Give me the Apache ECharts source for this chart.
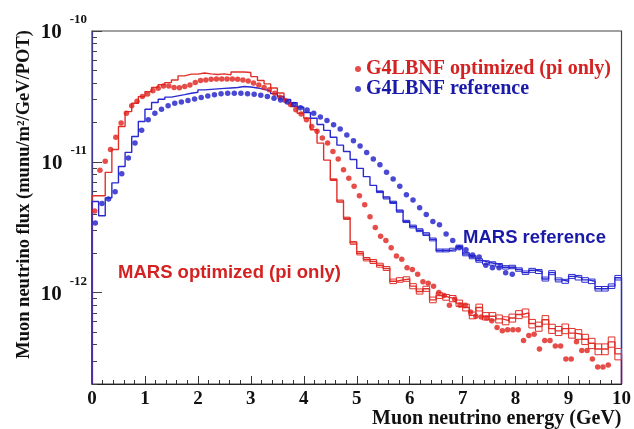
<!DOCTYPE html>
<html>
<head>
<meta charset="utf-8">
<script src="https://cdn.jsdelivr.net/npm/echarts@6/dist/echarts.min.js"></script>
<style>
  html, body { margin: 0; padding: 0; background: #fff; }
  #chart { width: 634px; height: 429px; }
</style>
</head>
<body>
<div id="chart"></div>
<script>
// flux values are in units of 1e-12 munu/m2/GeV/POT
var unit = 1e-12;

// G4LBNF optimized (pi only) - 0.1 GeV bins
var g4OptBin = 0.1;
var g4Opt = [4.2, 8.6, 10.1, 12.4, 15.4, 19.8, 23.5, 26.8, 29, 31.5,
  33, 35, 36.5, 38, 38, 37, 36.8, 37.6, 38.6, 40.4,
  41.8, 42.2, 42.8, 43, 43, 43, 43, 42.8, 42.2, 41.5,
  40, 38.6, 37, 35.5, 33.4, 31.2, 29.4, 27.4, 25, 23.2,
  21, 18.6, 17.1, 15.2, 13.9, 12.0, 10.5, 8.7, 7.5, 6.5,
  5.5, 4.7, 3.8, 3.15, 2.7, 2.5, 2.2, 1.9, 1.8, 1.55,
  1.5, 1.38, 1.21, 1.18, 1.12, 1.0, 0.95, 0.8, 0.89, 0.8,
  0.8, 0.71, 0.66, 0.65, 0.64, 0.61, 0.54, 0.51, 0.52, 0.52,
  0.52, 0.43, 0.47, 0.48, 0.37, 0.43, 0.43, 0.39, 0.39, 0.31,
  0.31, 0.42, 0.36, 0.36, 0.31, 0.27, 0.27, 0.28, null, null];

// G4LBNF reference - 0.125 GeV bins
var g4RefBin = 0.125;
var g4Ref = [3.4, 4.8, 5.2, 5.9, 8.1, 10.7, 13.9, 17.4, 21, 23.5,
  25.2, 26.8, 28, 28.7, 29.4, 30.2, 31, 31.9, 32.6, 33.1,
  33.4, 33.4, 33.4, 33.1, 32.8, 32.2, 31.5, 30.6, 29.7, 28.7,
  27.4, 25.9, 24.9, 23.5, 22, 20.7, 19.2, 17.8, 16, 14.5,
  13.2, 11.8, 10.5, 9.5, 8.3, 7.4, 6.5, 5.6, 5.1, 4.45,
  3.95, 3.5, 3.3, 2.8, 2.5, 2.2, 2.13, 1.94, 1.87, 1.62,
  1.55, 1.55, 1.42, 1.38];

// MARS histograms - 0.125 GeV bins, errors in percent
var marsBin = 0.125;
var marsOpt = [5.5, 5.5, 8.3, 12.4, 18.6, 24.2, 28, 31.5, 34.4, 37,
  38.8, 40.3, 42.2, 45.4, 46.8, 46.8, 47.7, 47, 46.5, 47,
  46.2, 48.6, 48.6, 48.2, 44.8, 41.8, 39.4, 36.7, 33.6, 29.8,
  26.5, 23.5, 21.5, 17.6, 13.9, 10.3, 7.3, 5.0, 3.7, 2.4,
  2.0, 1.8, 1.73, 1.62, 1.53, 1.22, 1.25, 1.27, 1.12, 1.02,
  1.07, 0.88, 0.95, 0.92, 0.9, 0.83, 0.77, 0.67, 0.77, 0.66,
  0.66, 0.63, 0.61, 0.64, 0.68, 0.7, 0.58, 0.55, 0.62, 0.53,
  0.51, 0.53, 0.49, 0.48, 0.44, 0.41, 0.37, 0.37, 0.42, 0.34];
var marsOptErr = [0, 0, 0, 0, 0, 0, 0, 0, 0, 0,
  0, 0, 0, 0, 0, 0, 0, 0, 0, 0,
  0, 0, 0, 0, 0, 0, 0, 0, 0, 0,
  0, 0, 0, 0, 0, 0, 1.5, 2, 2, 2.5,
  3, 3, 3.5, 3.5, 3.5, 4, 4, 4, 4.5, 4.5,
  4.5, 5, 5, 5, 5.5, 5.5, 6, 6, 6, 6.5,
  6.5, 7, 7, 7, 7, 7, 7.5, 8, 7.5, 8,
  8, 8.5, 8.5, 8.5, 9, 9, 9.5, 9.5, 9, 10];
var marsRef = [4.97, 3.87, 5.3, 6.9, 9.2, 11.8, 15.6, 20.3, 25.2, 28.4,
  30.1, 31.2, 31.9, 32.6, 33.4, 34, 35.5, 35.8, 36.1, 36.4,
  36.7, 37, 37.6, 37.3, 36.7, 35.8, 34.8, 33.2, 31.6, 30,
  28.3, 26.2, 23.8, 21.5, 19.3, 17.4, 15.4, 13.4, 12.0, 10.4,
  8.9, 7.7, 6.6, 5.9, 5.3, 4.9, 4.2, 3.5, 3.2, 3.0,
  2.8, 2.55, 2.1, 2.1, 2.13, 2.25, 1.97, 1.87, 1.76, 1.7,
  1.67, 1.62, 1.56, 1.57, 1.5, 1.42, 1.48, 1.45, 1.27, 1.42,
  1.25, 1.22, 1.33, 1.3, 1.25, 1.22, 1.07, 1.07, 1.12, 1.3];
var marsRefErr = [0, 0, 0, 0, 0, 0, 0, 0, 0, 0,
  0, 0, 0, 0, 0, 0, 0, 0, 0, 0,
  0, 0, 0, 0, 0, 0, 0, 0, 0, 0,
  0, 0, 0, 0, 0, 0, 0, 0, 0, 0,
  0, 0, 0, 1.5, 2, 2, 2, 2, 2.5, 2.5,
  2.5, 2.5, 2.5, 2.5, 2.5, 2.5, 3, 3, 3, 3,
  3, 3, 3, 3, 3, 3, 3.5, 3.5, 3.5, 3.5,
  3.5, 3.5, 3.5, 4, 4, 4, 4, 4, 4, 4];

var xMin = 0, xMax = 10;
var yMin = 2e-13, yMax = 1e-10;
var yMajorTicks = [1e-12, 1e-11, 1e-10];
var yMinorMult = [2, 3, 4, 5, 6, 7, 8, 9];

var RED = '#e0201c', BLUE = '#1c1cc8';
var serif = 'Liberation Serif', sans = 'Liberation Sans';

var yMinorTicks = [];
[1e-13, 1e-12, 1e-11].forEach(function (d) {
  yMinorMult.forEach(function (m) {
    var v = m * d;
    if (v >= yMin && v <= yMax) yMinorTicks.push(v);
  });
});

function dots(vals, bin) {
  var out = [];
  vals.forEach(function (v, i) {
    if (v != null) out.push([(i + 0.5) * bin, v * unit]);
  });
  return out;
}

function steps(vals, bin) {
  var out = [[0, yMin]];
  vals.forEach(function (v, i) { out.push([i * bin, v * unit]); });
  out.push([vals.length * bin, vals[vals.length - 1] * unit]);
  out.push([vals.length * bin, yMin]);
  return out;
}

function boxes(vals, errs, bin) {
  var out = [];
  vals.forEach(function (v, i) {
    if (errs[i] > 0) out.push([i * bin, (i + 1) * bin, v * unit, errs[i] / 100]);
  });
  return out;
}

function boxSeries(data, color) {
  return {
    type: 'custom',
    silent: true,
    z: 3,
    data: data,
    encode: { x: [0, 1], y: 2 },
    renderItem: function (params, api) {
      var v = api.value(2), e = api.value(3);
      var p0 = api.coord([api.value(0), v * (1 + e)]);
      var p1 = api.coord([api.value(1), v * (1 - e)]);
      return {
        type: 'rect',
        shape: { x: p0[0], y: p0[1], width: p1[0] - p0[0], height: p1[1] - p0[1] },
        style: { fill: 'none', stroke: color, lineWidth: 1 }
      };
    }
  };
}

var chart = echarts.init(document.getElementById('chart'));
chart.setOption({
  animation: false,
  backgroundColor: '#fff',
  grid: {
    left: 92, right: 11, top: 31, bottom: 45,
    show: true, borderColor: '#444', borderWidth: 1.2
  },
  legend: {
    orient: 'vertical',
    left: 350, top: 54,
    icon: 'circle',
    itemWidth: 6, itemHeight: 6, itemGap: 0,
    selectedMode: false,
    textStyle: { fontFamily: serif, fontWeight: 'bold', fontSize: 20 },
    data: [
      { name: 'G4LBNF optimized (pi only)', textStyle: { color: '#d42222' } },
      { name: 'G4LBNF reference', textStyle: { color: '#1a1aa8' } }
    ]
  },
  xAxis: {
    type: 'value',
    min: xMin, max: xMax, interval: 1,
    splitLine: { show: false },
    axisLine: { lineStyle: { color: '#222', width: 1.2 } },
    axisTick: { inside: true, length: 8, lineStyle: { color: '#333' } },
    minorTick: { show: true, splitNumber: 5, length: 4, lineStyle: { color: '#333' } },
    axisLabel: { margin: 6, color: '#111', fontFamily: serif, fontWeight: 'bold', fontSize: 19 },
    name: 'Muon neutrino energy (GeV)',
    nameLocation: 'end',
    nameGap: 0,
    nameTextStyle: {
      fontFamily: serif, fontWeight: 'bold', fontSize: 20, color: '#111',
      align: 'right', verticalAlign: 'top', padding: [25, 0, 0, 0]
    }
  },
  yAxis: [{
    type: 'log', logBase: 10,
    min: yMin, max: yMax,
    splitLine: { show: false },
    axisLine: { lineStyle: { color: '#3a3a9a', width: 1.2 } },
    axisTick: { inside: true, length: 10, customValues: yMajorTicks, lineStyle: { color: '#444' } },
    axisLabel: {
      customValues: yMajorTicks,
      margin: 5,
      formatter: function (v) {
        return '{b|10}{e|' + Math.round(Math.log10(v)) + '}';
      },
      rich: {
        b: { fontFamily: serif, fontWeight: 'bold', fontSize: 21, color: '#111', verticalAlign: 'bottom', padding: [0, 0, 5, 0] },
        e: { fontFamily: serif, fontWeight: 'bold', fontSize: 13, color: '#111', verticalAlign: 'bottom', padding: [0, 0, 22, 8] }
      }
    }
  }, {
    type: 'log', logBase: 10,
    min: yMin, max: yMax,
    position: 'left',
    splitLine: { show: false },
    axisLine: { show: false },
    axisLabel: { show: false },
    axisTick: { inside: true, length: 5, customValues: yMinorTicks, lineStyle: { color: '#444' } }
  }],
  graphic: [{
    type: 'text', x: 24, y: 30, rotation: Math.PI / 2,
    style: {
      text: 'Muon neutrino flux (munu/m\u00b2/GeV/POT)',
      fontFamily: serif, fontWeight: 'bold', fontSize: 18.5, fill: '#111',
      align: 'right', verticalAlign: 'middle'
    }
  }, {
    type: 'text', x: 463, y: 238,
    style: {
      text: 'MARS reference', fontFamily: sans, fontWeight: 'bold', fontSize: 18.5,
      fill: '#1a1aa8', verticalAlign: 'middle'
    }
  }, {
    type: 'text', x: 118, y: 273,
    style: {
      text: 'MARS optimized (pi only)', fontFamily: sans, fontWeight: 'bold', fontSize: 18.5,
      fill: '#d42222', verticalAlign: 'middle'
    }
  }],
  series: [{
    name: 'MARS optimized (pi only)',
    type: 'line', step: 'end', showSymbol: false, silent: true, z: 2,
    data: steps(marsOpt, marsBin),
    lineStyle: { color: '#e0302a', width: 1.4 }
  }, boxSeries(boxes(marsOpt, marsOptErr, marsBin), '#e0302a'), {
    name: 'MARS reference',
    type: 'line', step: 'end', showSymbol: false, silent: true, z: 2,
    data: steps(marsRef, marsBin),
    lineStyle: { color: '#2a2ad0', width: 1.4 }
  }, boxSeries(boxes(marsRef, marsRefErr, marsBin), '#2a2ad0'), {
    name: 'G4LBNF optimized (pi only)',
    type: 'scatter', symbol: 'circle', symbolSize: 5.5, z: 4,
    itemStyle: { color: RED },
    data: dots(g4Opt, g4OptBin)
  }, {
    name: 'G4LBNF reference',
    type: 'scatter', symbol: 'circle', symbolSize: 5.5, z: 4,
    itemStyle: { color: BLUE },
    data: dots(g4Ref, g4RefBin)
  }]
});
</script>
</body>
</html>
